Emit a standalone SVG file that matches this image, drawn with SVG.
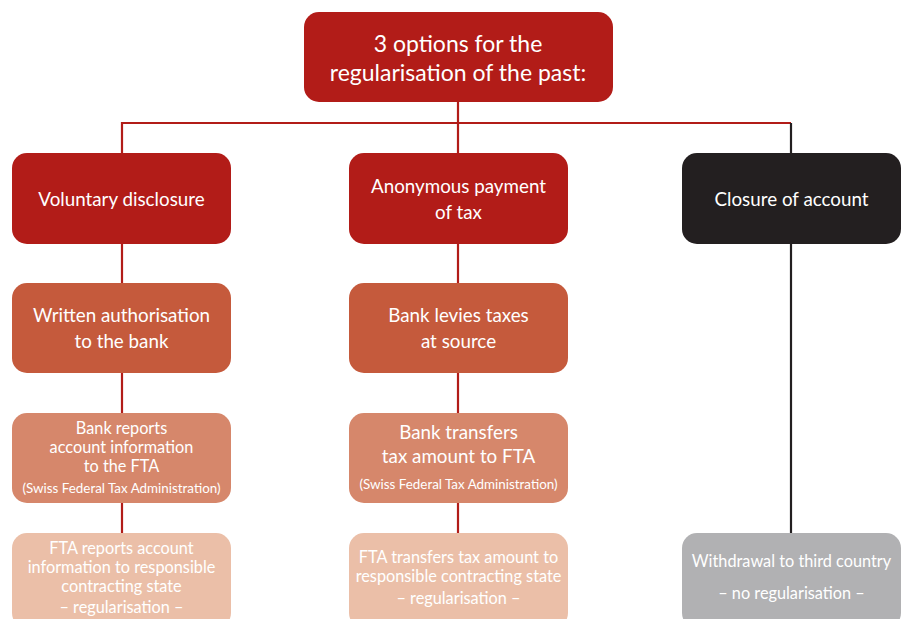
<svg xmlns="http://www.w3.org/2000/svg" width="908" height="619" viewBox="0 0 908 619">
<style>
text{font-family:Lato,"Open Sans","Liberation Sans",sans-serif;fill:#ffffff;text-anchor:middle}
.t1{font-size:23px}
.t2{font-size:18.8px}
.t3{font-size:16.3px}
.sm{font-size:13.4px}
.red{fill:#B21C18}
.blk{fill:#231F20}
.l3{fill:#C55A3C}
.l4{fill:#D6876B}
.l5{fill:#EBBFA8}
.gry{fill:#B1B1B3}
</style>
<rect width="908" height="619" fill="#ffffff"/>
<g id="connectors" fill="none" stroke-width="2.2">
<polyline points="122,533 122,123 791,123" stroke="#B21C18"/>
<line x1="458" y1="102" x2="458" y2="533" stroke="#B21C18"/>
<line x1="791" y1="123" x2="791" y2="533" stroke="#231F20"/>
</g>
<g id="top"><rect class="red" x="304" y="12" width="309" height="90" rx="15"/>
<text class="t1" x="458" y="52">3 options for the</text>
<text class="t1" x="458" y="81">regularisation of the past:</text></g>
<g id="voluntary"><rect class="red" x="12" y="153" width="219" height="91" rx="15"/>
<text class="t2" x="121.5" y="206">Voluntary disclosure</text></g>
<g id="anonymous"><rect class="red" x="349" y="153" width="219" height="91" rx="15"/>
<text class="t2" x="458.5" y="193">Anonymous payment</text>
<text class="t2" x="458.5" y="219">of tax</text></g>
<g id="closure"><rect class="blk" x="682" y="153" width="219" height="91" rx="15"/>
<text class="t2" x="791.5" y="206">Closure of account</text></g>
<g id="written"><rect class="l3" x="12" y="283" width="219" height="90" rx="15"/>
<text class="t2" x="121.5" y="322">Written authorisation</text>
<text class="t2" x="121.5" y="348">to the bank</text></g>
<g id="levies"><rect class="l3" x="349" y="283" width="219" height="90" rx="15"/>
<text class="t2" x="458.5" y="322">Bank levies taxes</text>
<text class="t2" x="458.5" y="348">at source</text></g>
<g id="bankreports"><rect class="l4" x="12" y="413" width="219" height="90" rx="15"/>
<text class="t3" x="121.5" y="434">Bank reports</text>
<text class="t3" x="121.5" y="453">account information</text>
<text class="t3" x="121.5" y="472">to the FTA</text>
<text class="sm" x="121.5" y="493">(Swiss Federal Tax Administration)</text></g>
<g id="banktransfers"><rect class="l4" x="349" y="413" width="219" height="90" rx="15"/>
<text class="t2" x="458.5" y="439">Bank transfers</text>
<text class="t2" x="458.5" y="463">tax amount to FTA</text>
<text class="sm" x="458.5" y="489">(Swiss Federal Tax Administration)</text></g>
<g id="ftareports"><rect class="l5" x="12" y="533" width="219" height="95" rx="15"/>
<text class="t3" x="121.5" y="554">FTA reports account</text>
<text class="t3" x="121.5" y="573">information to responsible</text>
<text class="t3" x="121.5" y="592">contracting state</text>
<text class="t3" x="121.5" y="613">–  regularisation –</text></g>
<g id="ftatransfers"><rect class="l5" x="349" y="533" width="219" height="95" rx="15"/>
<text class="t3" x="458.5" y="563">FTA transfers tax amount to</text>
<text class="t3" x="458.5" y="582">responsible contracting state</text>
<text class="t3" x="458.5" y="604">–  regularisation –</text></g>
<g id="withdrawal"><rect class="gry" x="682" y="533" width="219" height="95" rx="15"/>
<text class="t3" x="791.5" y="567">Withdrawal to third country</text>
<text class="t3" x="791.5" y="599">–  no regularisation  –</text></g>
</svg>
